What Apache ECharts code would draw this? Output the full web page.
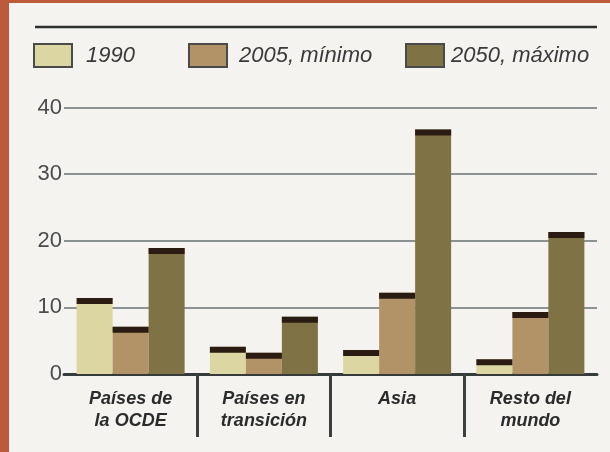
<!DOCTYPE html>
<html>
<head>
<meta charset="utf-8">
<script src="https://cdn.jsdelivr.net/npm/echarts@6/dist/echarts.min.js"></script>
<style>
  html, body { margin: 0; padding: 0; width: 610px; height: 452px; background: #bd5a3c; overflow: hidden; }
  #chart { position: absolute; left: 9px; top: 3px; width: 601px; height: 449px; background: #f4f3ef; }
</style>
</head>
<body>
<div id="chart"></div>
<script>
const categories = ['Países de\nla OCDE', 'Países en\ntransición', 'Asia', 'Resto del\nmundo'];
const seriesNames = ['1990', '2005, mínimo', '2050, máximo'];
const v1990 = [11.4, 4.1, 3.6, 2.2];
const v2005 = [7.1, 3.2, 12.2, 9.3];
const v2050 = [18.9, 8.6, 36.7, 21.3];
const yTicks = [0, 10, 20, 30, 40];
const dividerPositions = [1, 2, 3];

const colors = ['#dcd6a3', '#b29368', '#7f7345'];
const capColor = '#2a1c13';
const values = [v1990, v2005, v2050];

const chart = echarts.init(document.getElementById('chart'), null, { renderer: 'canvas' });

const barSeries = values.map((vals, i) => ({
  name: seriesNames[i],
  type: 'bar',
  data: vals,
  barWidth: 36,
  barGap: '0%',
  itemStyle: { color: colors[i] },
  z: 2
}));
const capSeries = values.map((vals, i) => ({
  name: 'cap' + i,
  type: 'pictorialBar',
  data: vals,
  barWidth: 36,
  barGap: '0%',
  symbol: 'rect',
  symbolSize: [36, 6],
  symbolPosition: 'end',
  symbolOffset: [0, 0],
  itemStyle: { color: capColor },
  silent: true,
  z: 3
}));

const legendFont = { fontFamily: 'Liberation Sans, Arial, sans-serif', fontStyle: 'italic', fontSize: 22, color: '#3a3a3a' };
const legendPos = [24, 179, 396];
const legendTextPad = [9, 7, 2];

chart.setOption({
  animation: false,
  backgroundColor: '#f4f3ef',
  legend: seriesNames.map((n, i) => ({
    data: [n],
    left: legendPos[i],
    top: 40,
    padding: 0,
    itemWidth: 38,
    itemHeight: 23,
    itemGap: 0,
    icon: 'rect',
    itemStyle: { borderColor: '#4a4a48', borderWidth: 2 },
    textStyle: Object.assign({ padding: [0, 0, 0, legendTextPad[i]] }, legendFont),
    selectedMode: false
  })),
  grid: { left: 55, right: 13, top: 104.5, bottom: 78 },
  xAxis: [
    {
      type: 'category',
      data: categories,
      axisLine: { show: true, lineStyle: { color: '#353a3a', width: 3 } },
      axisTick: { show: false },
      axisLabel: {
        interval: 0,
        margin: 14,
        fontFamily: 'Liberation Sans, Arial, sans-serif',
        fontStyle: 'italic',
        fontWeight: 'bold',
        fontSize: 18,
        lineHeight: 22,
        color: '#2a2c2c'
      }
    },
    {
      type: 'value',
      position: 'bottom',
      min: 0,
      max: 4,
      axisLine: { show: false },
      splitLine: { show: false },
      axisLabel: { show: false },
      axisTick: {
        show: true,
        inside: false,
        length: 63,
        customValues: dividerPositions,
        lineStyle: { color: '#3a4040', width: 3 }
      }
    }
  ],
  yAxis: {
    type: 'value',
    min: 0,
    max: 40,
    interval: 10,
    axisLine: { show: false },
    axisTick: { show: false },
    axisLabel: {
      margin: 2,
      fontFamily: 'Liberation Sans, Arial, sans-serif',
      fontSize: 22,
      color: '#4a4c4c',
      padding: [6, 0, 0, 0],
      customValues: yTicks
    },
    splitLine: { lineStyle: { color: '#8a9292', width: 2 } }
  },
  graphic: [
    {
      type: 'line',
      shape: { x1: 26, y1: 24, x2: 588, y2: 24 },
      style: { stroke: '#2c3030', lineWidth: 2.5 }
    }
  ],
  series: barSeries.concat(capSeries)
});
</script>
</body>
</html>
